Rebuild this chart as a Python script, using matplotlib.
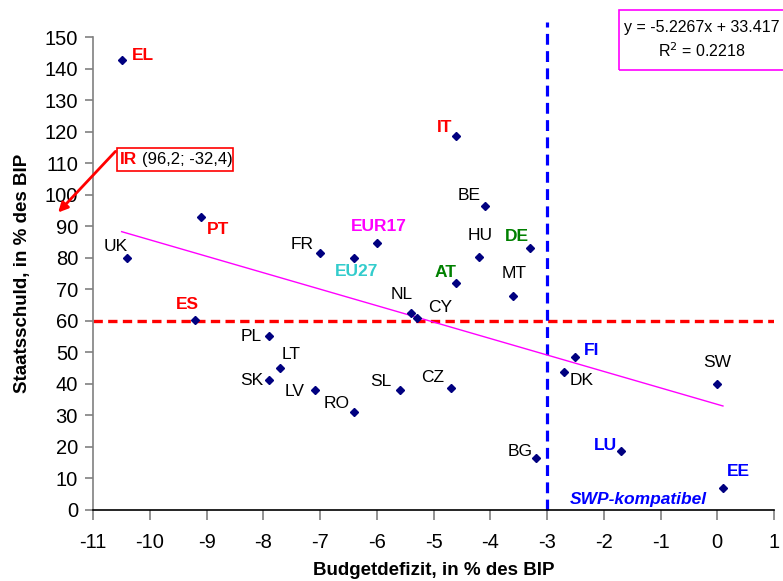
import matplotlib
matplotlib.use("Agg")
import matplotlib.pyplot as plt
from matplotlib.patches import Rectangle
import numpy as np

plt.rcParams['font.family'] = ['Liberation Sans', 'DejaVu Sans']

# ---------------- data ----------------
countries = ["EL", "PT", "UK", "ES", "PL", "LT", "SK", "FR", "EU27", "EUR17", "IT", "BE",
             "HU", "DE", "AT", "MT", "NL", "CY", "LV", "RO", "SL", "CZ", "BG", "FI",
             "DK", "SW", "LU", "EE"]
deficit = [-10.5, -9.1, -10.4, -9.2, -7.9, -7.7, -7.9, -7.0, -6.4, -6.0, -4.6, -4.1,
           -4.2, -3.3, -4.6, -3.6, -5.4, -5.3, -7.1, -6.4, -5.6, -4.7, -3.2, -2.5,
           -2.7, 0.0, -1.7, 0.1]
debt = [142.8, 93.0, 80.0, 60.1, 55.0, 44.9, 41.0, 81.6, 79.8, 84.7, 118.8, 96.4,
        80.2, 83.1, 72.1, 67.9, 62.6, 60.8, 38.1, 31.0, 38.1, 38.5, 16.4, 48.4,
        43.8, 39.8, 18.6, 6.9]
trend_slope = -5.2267
trend_intercept = 33.417
r_squared = 0.2218
debt_limit = 60
deficit_limit = -3
ireland_text = "(96,2; -32,4)"

x_ticks = list(range(-11, 2))
y_ticks = list(range(0, 151, 10))

# label styles: (dx px, dy px, ha, color, bold)
RED, GREEN, BLUE, MAG, CYAN, BLK = "#FF0000", "#008000", "#0000FF", "#FF00FF", "#33CCCC", "#000000"
label_style = {
    "EL": (10, 5, "left", RED, True),
    "PT": (6, -13, "left", RED, True),
    "UK": (-12, 11, "center", BLK, False),
    "ES": (-8, 16, "center", RED, True),
    "PL": (-7, 0, "right", BLK, False),
    "LT": (1, 14, "left", BLK, False),
    "SK": (-6, 0, "right", BLK, False),
    "FR": (-7, 8, "right", BLK, False),
    "EU27": (2, -13, "center", CYAN, True),
    "EUR17": (2, 16, "center", MAG, True),
    "IT": (-4, 8, "right", RED, True),
    "BE": (-16, 11, "center", BLK, False),
    "HU": (1, 22, "center", BLK, False),
    "DE": (-13, 12, "center", GREEN, True),
    "AT": (0, 10, "right", GREEN, True),
    "MT": (1, 22, "center", BLK, False),
    "NL": (-9, 18, "center", BLK, False),
    "CY": (11, 11, "left", BLK, False),
    "LV": (-10, -2, "right", BLK, False),
    "RO": (-18, 8, "center", BLK, False),
    "SL": (-19, 8, "center", BLK, False),
    "CZ": (-18, 11, "center", BLK, False),
    "BG": (-3, 6, "right", BLK, False),
    "FI": (8, 7, "left", BLUE, True),
    "DK": (6, -9, "left", BLK, False),
    "SW": (0, 22, "center", BLK, False),
    "LU": (-4, 5, "right", BLUE, True),
    "EE": (4, 16, "left", BLUE, True),
}

# ---------------- figure ----------------
W, H, DPI = 783, 581, 100
fig = plt.figure(figsize=(W / DPI, H / DPI), dpi=DPI)
ax = fig.add_axes([93.3 / W, 1 - 509.5 / H, (774 - 93.3) / W, (509.5 - 37.5) / H])

ax.set_xlim(-11, 1)
ax.set_ylim(0, 150)
ax.set_xticks(x_ticks)
ax.set_yticks(y_ticks)
ax.set_xticklabels([str(v) for v in x_ticks])
ax.set_yticklabels([str(v) for v in y_ticks])

for s in ["top", "right"]:
    ax.spines[s].set_visible(False)
ax.spines["left"].set_color("#808080")
ax.spines["left"].set_linewidth(1.2)
ax.spines["bottom"].set_color("#000000")
ax.spines["bottom"].set_linewidth(1.2)
ax.tick_params(axis="y", direction="out", length=6, width=1.2, color="#808080",
               labelsize=14.5, pad=5)
ax.tick_params(axis="x", direction="out", length=7, width=1.2, color="#808080",
               labelsize=14.5, pad=10)

# reference lines
ax.axhline(debt_limit, color=RED, lw=2.4, linestyle=(0, (2.8, 1.6)), zorder=2)
ax.plot([deficit_limit, deficit_limit], [0, 155], color=BLUE, lw=2.3,
        linestyle=(0, (3.4, 2.0)), clip_on=False, zorder=2)

# trend line over data range
xt = np.array([min(deficit), max(deficit)])
ax.plot(xt, trend_slope * xt + trend_intercept, color=MAG, lw=1.0, zorder=3)

# points
ax.plot(deficit, debt, linestyle="none", marker="D", markersize=4.5,
        color="#000080", zorder=4)

for c, x, y in zip(countries, deficit, debt):
    dx, dy, ha, col, bold = label_style[c]
    ax.annotate(c, (x, y), xytext=(dx, dy), textcoords="offset pixels",
                ha=ha, va="center", fontsize=12.5, color=col,
                fontweight="bold" if bold else "normal", zorder=5)

# SWP label
ax.text(-1.4, 3.3, "SWP-kompatibel", color=BLUE, fontsize=12.5, fontweight="bold",
        fontstyle="italic", ha="center", va="center")

# Ireland annotation
ax.add_patch(Rectangle((-10.59, 107.5), 2.055, 7.5, fill=False, edgecolor=RED,
                       lw=1.2, clip_on=False, zorder=6))
ax.text(-10.54, 111.3, "IR", color=RED, fontsize=12.5, fontweight="bold",
        ha="left", va="center", zorder=6)
ax.text(-10.15, 111.3, ireland_text, color=BLK, fontsize=12, ha="left",
        va="center", zorder=6)
ax.annotate("", xy=(-11.62, 94.4), xytext=(-10.61, 113.8),
            arrowprops=dict(arrowstyle="-|>", color=RED, lw=2.0,
                            mutation_scale=14, shrinkA=0, shrinkB=0),
            annotation_clip=False, zorder=6)

# axis labels
ax.set_xlabel("Budgetdefizit, in % des BIP", fontsize=13.5, fontweight="bold",
              labelpad=7)
ax.set_ylabel("Staatsschuld, in % des BIP", fontsize=13.5, fontweight="bold",
              labelpad=10)

# equation box (figure pixel coords)
fig.patches.append(Rectangle((619 / W, 1 - 70 / H), 200 / W, 60 / H,
                             transform=fig.transFigure, fill=False,
                             edgecolor=MAG, lw=1.2))
fig.text(702 / W, 1 - 27.5 / H, "y = -5.2267x + 33.417", fontsize=11.5,
         ha="center", va="center")
fig.text(702 / W, 1 - 51 / H, "R$^2$ = 0.2218", fontsize=11.5,
         ha="center", va="center")

fig.savefig("out.png", dpi=DPI)
